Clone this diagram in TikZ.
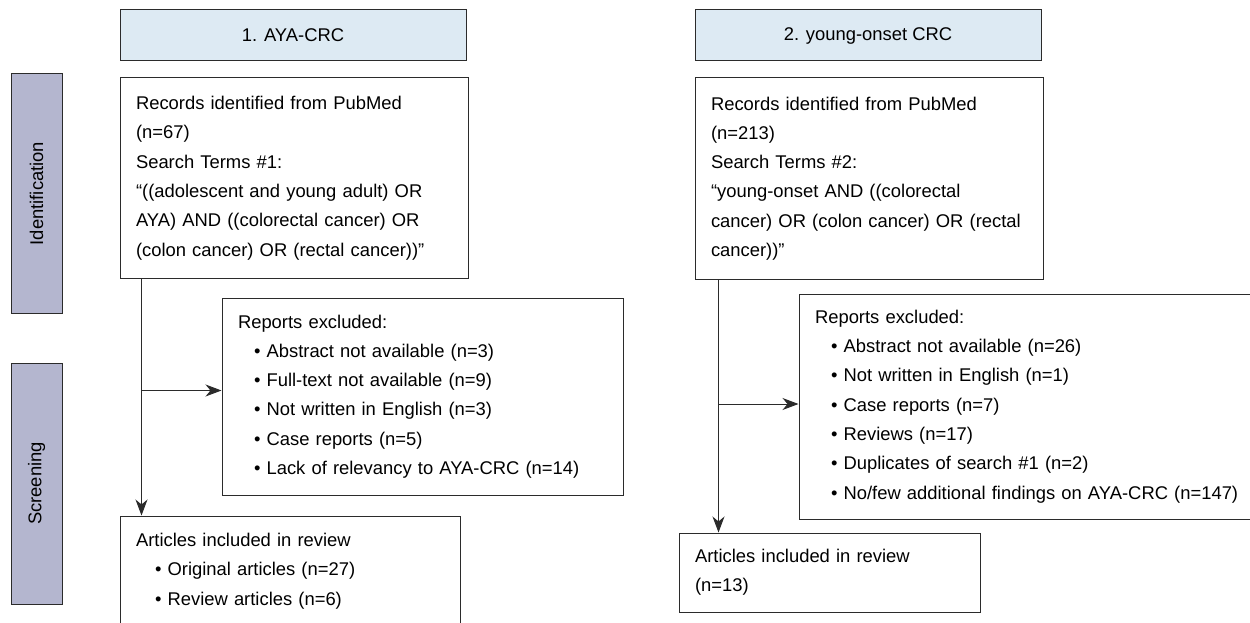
\documentclass[tikz,border=0pt]{standalone}
\usepackage{fontspec}
\setmainfont{Liberation Sans}
\usetikzlibrary{arrows.meta,calc,positioning}
\definecolor{stagefill}{HTML}{B4B6CF}
\definecolor{headfill}{HTML}{DDEAF3}
\definecolor{edge}{HTML}{2B2B2B}
\newcommand{\bodyfont}{\fontsize{18.4}{29.3}\selectfont}
\newcommand{\itm}[1][16pt]{\hspace*{#1}\textbullet\ }
\tikzset{
  stage/.style={draw=edge, line width=1pt, fill=stagefill, minimum height=51pt, inner sep=0pt, rotate=90},
  head/.style={draw=edge, line width=1pt, fill=headfill, minimum height=51pt, minimum width=346pt, inner sep=0pt},
  box/.style={draw=edge, line width=1pt, fill=white, align=left, inner xsep=16pt, inner ysep=0pt},
  flow/.style={-{Stealth[length=16pt,width=12pt,inset=5pt]}, line width=1pt, edge}
}

\begin{document}
\begin{tikzpicture}[x=1pt, y=-1pt, font=\bodyfont]
  \clip (0,0) rectangle (1250,623);

  % stages
  \node[stage, minimum width=239pt] (idstage) at (36.5,193.5) {Identification};
  \node[stage, minimum width=241pt] (scrstage) at (36.5,483.5) {Screening};

  % search 1
  \node[head] (headA) at (293,35.5) {1. AYA-CRC};
  \node[box, text width=316pt, minimum height=200pt] (recA) at (294,178)
    {Records identified from PubMed\\(n=67)\\Search Terms \#1:\\“((adolescent and young adult) OR\\AYA) AND ((colorectal cancer) OR\\(colon cancer) OR (rectal cancer))”};
  \node[box, text width=369pt, minimum height=197pt] (excA) at (422.5,396.5)
    {Reports excluded:\\\itm Abstract not available (n=3)\\\itm Full-text not available (n=9)\\\itm Not written in English (n=3)\\\itm Case reports (n=5)\\\itm Lack of relevancy to AYA-CRC (n=14)};
  \node[box, text width=308pt, minimum height=110pt] (artA) at (290,571)
    {Articles included in review\\\itm[19pt]Original articles (n=27)\\\itm[19pt]Review articles (n=6)};

  \draw[flow] ([xshift=22pt]recA.south west) -- ([xshift=22pt]artA.north west);
  \draw[flow] ([xshift=22pt,yshift=6pt]recA.south west |- excA.west) -- ([yshift=6pt]excA.west);

  % search 2
  \node[head] (headB) at (868,35.5) {2. young-onset CRC};
  \node[box, text width=316pt, minimum height=202pt] (recB) at (869,178.5)
    {Records identified from PubMed\\(n=213)\\Search Terms \#2:\\“young-onset AND ((colorectal\\cancer) OR (colon cancer) OR (rectal\\cancer))”};
  \node[box, text width=439pt, minimum height=225pt] (excB) at (1034.5,406.5)
    {Reports excluded:\\\itm Abstract not available (n=26)\\\itm Not written in English (n=1)\\\itm Case reports (n=7)\\\itm Reviews (n=17)\\\itm Duplicates of search \#1 (n=2)\\\itm No/few additional findings on AYA-CRC (n=147)};
  \node[box, text width=269pt, minimum height=79pt] (artB) at (829.5,572.5)
    {Articles included in review\\(n=13)};

  \draw[flow] ([xshift=24pt]recB.south west) -- ([xshift=24pt]recB.south west |- artB.north);
  \draw[flow] ([xshift=24pt,yshift=2.5pt]recB.south west |- excB.west) -- ([yshift=2.5pt]excB.west);
\end{tikzpicture}
\end{document}
